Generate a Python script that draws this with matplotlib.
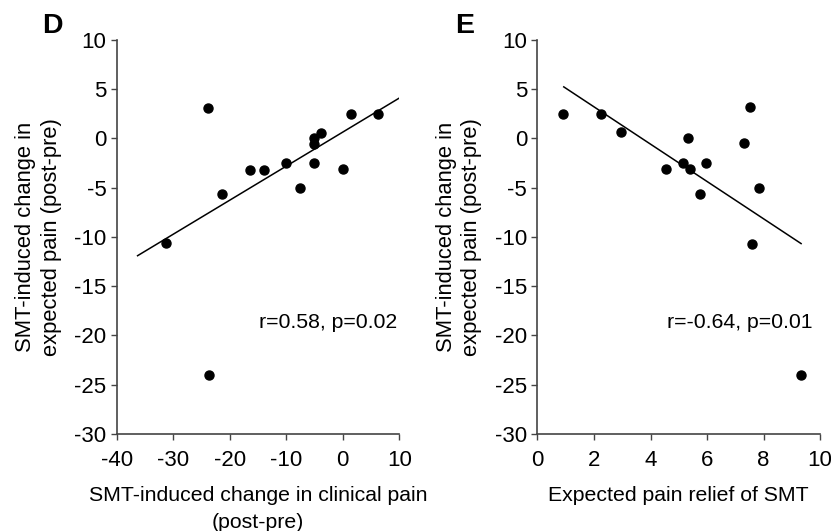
import matplotlib
matplotlib.use("Agg")
import matplotlib.pyplot as plt

plt.rcParams['font.family'] = ['Liberation Sans', 'DejaVu Sans']
plt.rcParams['axes.unicode_minus'] = False

# panel D: change in clinical pain vs change in expected pain
clin_change = [-31.2, -23.9, -21.3, -16.4, -13.9, -10.1, -7.6, -5.1, -5.1, -5.1, -3.9, 0.0, 1.5, 6.2, -23.7]
exp_change_d = [-10.6, 3.1, -5.6, -3.2, -3.2, -2.5, -5.0, 0.0, -0.6, -2.5, 0.6, -3.1, 2.5, 2.5, -24.0]
fit_d_x = [-36.3, 10.0]
fit_d_y = [-11.9, 4.1]

# panel E: expected relief vs change in expected pain
relief = [0.91, 2.25, 2.95, 4.54, 5.14, 5.32, 5.40, 5.96, 5.76, 7.32, 7.53, 7.85, 7.60, 9.32]
exp_change_e = [2.5, 2.5, 0.65, -3.1, -2.5, 0.0, -3.1, -2.5, -5.6, -0.5, 3.2, -5.0, -10.7, -24.0]
fit_e_x = [0.93, 9.33]
fit_e_y = [5.24, -10.67]

yticks = [-30, -25, -20, -15, -10, -5, 0, 5, 10]
xticks_d = [-40, -30, -20, -10, 0, 10]
xticks_e = [0, 2, 4, 6, 8, 10]

ylab = "SMT-induced change in\nexpected pain (post-pre)"
fs = 15.3
spine_col = '#444444'

fig = plt.figure(figsize=(8.31, 5.31), dpi=100)
axD = fig.add_axes([0.1404, 0.1827, 0.340, 0.742])
axE = fig.add_axes([0.6468, 0.1827, 0.340, 0.742])

def style(ax, xt, xlim):
    for s in ['top', 'right']:
        ax.spines[s].set_visible(False)
    for s in ['left', 'bottom']:
        ax.spines[s].set_color(spine_col)
        ax.spines[s].set_linewidth(1.2)
    ax.set_xlim(xlim)
    ax.set_ylim(-30, 10)
    ax.set_xticks(xt)
    ax.set_yticks(yticks)
    ax.tick_params(direction='out', length=4.5, width=1, color=spine_col,
                   labelsize=16, pad=3)
    ax.tick_params(axis='x', pad=7)
    ax.set_ylabel(ylab, fontsize=15.8, labelpad=9, linespacing=1.3)

style(axD, xticks_d, (-40, 10))
axD.plot(clin_change, exp_change_d, 'o', color='black', ms=6.5)
axD.plot(fit_d_x, fit_d_y, '-', color='black', lw=1.1)
axD.text(9.6, -18.7, "r=0.58, p=0.02", fontsize=fs, ha='right', va='center')
axD.set_xlabel("SMT-induced change in clinical pain\n(post-pre)", fontsize=fs,
               labelpad=11, linespacing=1.55)

style(axE, xticks_e, (0, 10))
axE.plot(relief, exp_change_e, 'o', color='black', ms=6.5)
axE.plot(fit_e_x, fit_e_y, '-', color='black', lw=1.1)
axE.text(9.72, -18.7, "r=-0.64, p=0.01", fontsize=fs, ha='right', va='center')
axE.set_xlabel("Expected pain relief of SMT", fontsize=fs, labelpad=11)

# panel letters
fig.text(42 / 831, 1 - 33 / 531, "D", fontsize=20.5, fontweight='bold', ha='left', va='baseline')
fig.text(455 / 831, 1 - 33 / 531, "E", fontsize=20.5, fontweight='bold', ha='left', va='baseline')

fig.savefig("out.png", dpi=100)
